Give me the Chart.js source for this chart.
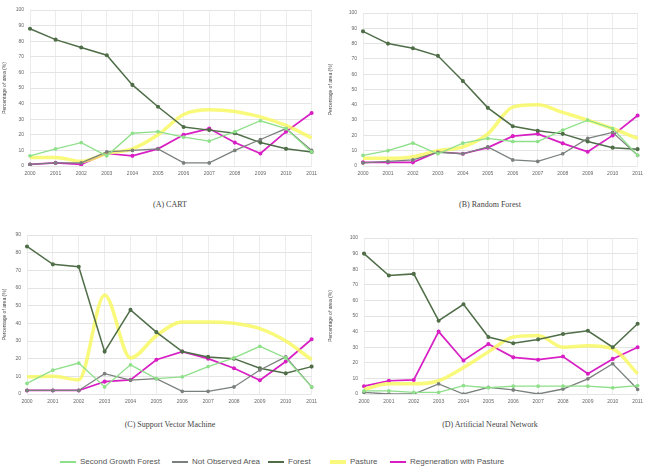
<!DOCTYPE html>
<html>
<head>
<meta charset="utf-8">
<script src="https://cdn.jsdelivr.net/npm/chart.js@4.4.1/dist/chart.umd.min.js"></script>
<style>
body{margin:0;width:648px;height:472px;background:#fff;position:relative;overflow:hidden;font-family:"Liberation Serif",serif}
.panel{position:absolute}
.cap{position:absolute;font-size:8px;color:#444;text-align:center;width:220px}
#legend{position:absolute;left:0;top:457px;width:648px;font-family:"Liberation Sans Narrow","Liberation Sans",sans-serif;font-size:8px;color:#555}
.item{position:absolute;white-space:nowrap}
.item i{display:inline-block;position:relative;width:16px;height:2px;vertical-align:middle;margin-right:4px}
</style>
</head>
<body>
<div class="panel" style="left:0;top:0;width:322px;height:185px"><canvas id="cA"></canvas></div>
<div class="panel" style="left:326px;top:0;width:322px;height:185px"><canvas id="cB"></canvas></div>
<div class="panel" style="left:0;top:225px;width:322px;height:185px"><canvas id="cC"></canvas></div>
<div class="panel" style="left:326px;top:225px;width:322px;height:185px"><canvas id="cD"></canvas></div>
<div class="cap" style="left:60px;top:200px">(A) CART</div>
<div class="cap" style="left:380px;top:200px">(B) Random Forest</div>
<div class="cap" style="left:60px;top:420px">(C) Support Vector Machine</div>
<div class="cap" style="left:380px;top:420px">(D) Artificial Neural Network</div>
<div id="legend"></div>
<script>
var years = ["2000","2001","2002","2003","2004","2005","2006","2007","2008","2009","2010","2011"];
var names = ["Second Growth Forest","Not Observed Area","Forest","Pasture","Regeneration with Pasture"];

// (A) CART
var cartSecond = [6.5,11,15,6.5,21,22,18.5,16,22,29,24,9];
var cartNotObs = [1,2,2,9,10,11,2,2,10,17,24,10];
var cartForest = [88,81,76,71,52,38,25,23,21,15,11,9];
var cartPasture = [5.5,5.5,3,8,11,20,33,36,35,31.5,26,18];
var cartRegen = [1,2,1,8,6.5,11,20,24,15,8,22,34];

// (B) Random Forest
var rfSecond = [7,10,15,8,15,18,16,16,23.5,30,24.5,7];
var rfNotObs = [2,3,4,9,8,12.5,4,3,8,18,22,7];
var rfForest = [88,80,77,72,55.5,38,26,23,21,16,12,11];
var rfPasture = [5,5,6,10,12.5,21,38.5,40,35,30,24.5,18];
var rfRegen = [2.4,2.4,2.4,9.3,8,12,19.5,21,14.8,9.3,20,33];

// (C) Support Vector Machine
var svmSecond = [6,13.5,17.5,4,16.5,8.7,9.7,15.5,20.4,27,20.4,4];
var svmNotObs = [2,2,2,11.5,7.8,8.7,1.5,1.5,4,13.6,21,4];
var svmForest = [83.5,73.4,72,24,47.6,35,24,21,20,14.6,11.7,15.5];
var svmPasture = [9.7,10,8,56,20.4,33,40.8,40.8,40,37,30,19.4];
var svmRegen = [2,2,2,7,8,19.4,24,20,14.6,7.8,18.4,31];

// (D) Artificial Neural Network
var annSecond = [2,2,1,1,5.4,4,5,5,5,5,4,5.4];
var annNotObs = [1,0,0,6.5,0,4.3,2.6,0,3.2,9.7,19.4,3];
var annForest = [90,76,77,47,57.5,36.5,32.5,35,38.5,40.5,30,45];
var annPasture = [3,6.5,6.5,8.5,17,27,36.5,37.5,30,31,29,13];
var annRegen = [5,8.5,9,40,21.5,32,23.5,22,24,13,22.5,30];

var styles = [
  {borderColor:"#8fe08a", borderWidth:1.3, pointRadius:1.2, smooth:false},
  {borderColor:"#7a807c", borderWidth:1.3, pointRadius:1.2, smooth:false},
  {borderColor:"#4f6e48", borderWidth:1.5, pointRadius:1.3, smooth:false},
  {borderColor:"rgba(248,248,90,0.8)", borderWidth:3.5, pointRadius:0, smooth:true},
  {borderColor:"#d81fc4", borderWidth:1.7, pointRadius:1.2, smooth:false}
];

function makePanel(id, series, ymax, yw, padTop, padBottom){
  var datasets = series.map(function(d, i){
    var s = styles[i];
    return {label:names[i], data:d, borderColor:s.borderColor, backgroundColor:s.borderColor,
      borderWidth:s.borderWidth, pointRadius:s.pointRadius, fill:false,
      tension:s.smooth ? 0.4 : 0, cubicInterpolationMode:s.smooth ? "monotone" : "default"};
  });
  return new Chart(document.getElementById(id), {
    type:"line",
    data:{labels:years, datasets:datasets},
    options:{
      responsive:true, maintainAspectRatio:false, animation:false,
      layout:{padding:{top:padTop, right:8, bottom:padBottom}},
      plugins:{legend:{display:false}, tooltip:{enabled:false}},
      scales:{
        x:{offset:false, grid:{color:"#ececec", drawTicks:false},
           border:{display:false},
           ticks:{font:{size:5}, color:"#666", padding:5, maxRotation:0, autoSkip:false}},
        y:{min:0, max:ymax, grid:{color:"#e4e4e4", drawTicks:false},
           border:{display:false},
           ticks:{stepSize:10, font:{size:5}, color:"#666", padding:6},
           title:{display:true, text:"Percentage of area (%)", font:{size:5}, color:"#444", padding:2},
           afterFit:function(sc){ sc.width = yw; }}
      }
    }
  });
}

makePanel("cA", [cartSecond,cartNotObs,cartForest,cartPasture,cartRegen], 100, 30, 10, 3);
makePanel("cB", [rfSecond,rfNotObs,rfForest,rfPasture,rfRegen], 100, 37, 13, 3);
makePanel("cC", [svmSecond,svmNotObs,svmForest,svmPasture,svmRegen], 90, 27, 10, 0);
makePanel("cD", [annSecond,annNotObs,annForest,annPasture,annRegen], 100, 38, 13, 0);

// shared legend
var legendX = [60,172,268,330,390];
var lg = document.getElementById("legend");
names.forEach(function(n, i){
  var d = document.createElement("span");
  d.className = "item";
  d.style.left = legendX[i] + "px";
  var c = styles[i].borderColor;
  d.innerHTML = '<i style="background:' + c + ';height:' + (i == 3 ? 4 : 2) + 'px"></i>' + n;
  lg.appendChild(d);
});
</script>
</body>
</html>
